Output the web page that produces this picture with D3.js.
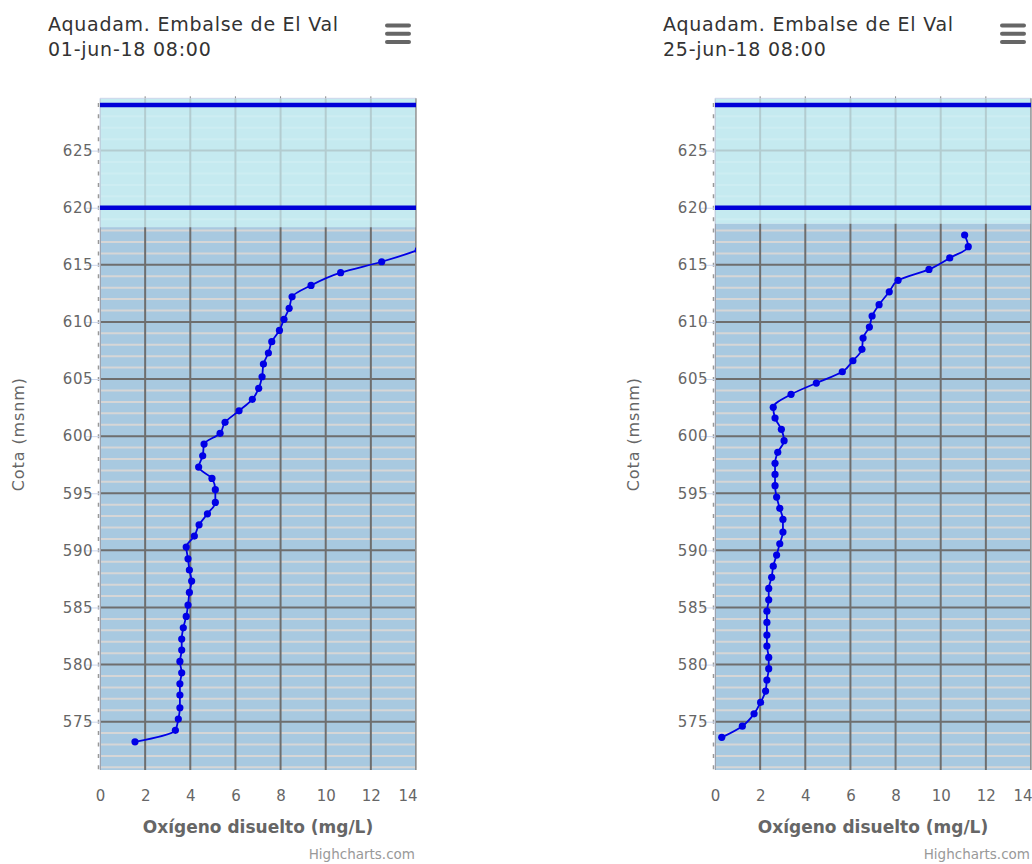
<!DOCTYPE html>
<html>
<head>
<meta charset="utf-8">
<script src="https://cdn.jsdelivr.net/npm/d3@7"></script>
<style>
  body { margin: 0; background: #fff; }
  text { font-family: "DejaVu Sans", sans-serif; }
</style>
</head>
<body>
<div class="body"></div>
<script>
// data
const titulo = "Aquadam. Embalse de El Val";
const fechas = ["01-jun-18 08:00", "25-jun-18 08:00"];

const oxigeno1 = [15.3, 14.1, 12.48, 10.66, 9.35, 8.51, 8.38, 8.15, 7.95, 7.61, 7.46, 7.24, 7.18, 7.03, 6.75, 6.16, 5.54, 5.32, 4.61, 4.55, 4.37, 4.96, 5.11, 5.11, 4.76, 4.39, 4.18, 3.82, 3.9, 3.96, 4.06, 3.96, 3.9, 3.82, 3.69, 3.62, 3.62, 3.54, 3.62, 3.54, 3.54, 3.54, 3.47, 3.34, 1.55];
const cota1 = [617.3, 616.3, 615.27, 614.31, 613.2, 612.2, 611.19, 610.23, 609.26, 608.27, 607.28, 606.31, 605.2, 604.19, 603.22, 602.22, 601.21, 600.25, 599.31, 598.28, 597.29, 596.3, 595.31, 594.2, 593.2, 592.24, 591.25, 590.29, 589.26, 588.28, 587.31, 586.32, 585.21, 584.22, 583.22, 582.23, 581.27, 580.28, 579.28, 578.32, 577.33, 576.22, 575.23, 574.24, 573.24];

const oxigeno2 = [11.06, 11.22, 10.4, 9.48, 8.11, 7.72, 7.27, 6.96, 6.84, 6.56, 6.51, 6.11, 5.64, 4.49, 3.37, 2.58, 2.66, 2.94, 3.06, 2.78, 2.66, 2.66, 2.66, 2.73, 2.87, 3.01, 3.01, 2.87, 2.73, 2.58, 2.51, 2.38, 2.38, 2.3, 2.3, 2.3, 2.3, 2.38, 2.38, 2.3, 2.24, 2.02, 1.73, 1.21, 0.3];
const cota2 = [617.61, 616.59, 615.6, 614.6, 613.64, 612.64, 611.51, 610.52, 609.55, 608.59, 607.6, 606.6, 605.64, 604.65, 603.66, 602.52, 601.58, 600.6, 599.6, 598.58, 597.62, 596.65, 595.66, 594.67, 593.68, 592.71, 591.6, 590.58, 589.59, 588.62, 587.64, 586.67, 585.67, 584.68, 583.69, 582.58, 581.62, 580.63, 579.64, 578.65, 577.68, 576.69, 575.69, 574.61, 573.63];

const nivelAgua = [618.3, 618.6];
const lineasCota = [629, 620];
const xTicks = [0, 2, 4, 6, 8, 10, 12, 14];
const yTicks = [575, 580, 585, 590, 595, 600, 605, 610, 615, 620, 625];
const yMinor = d3.range(571, 630, 1);

const plot = { left: 100, top: 98.3, width: 316, height: 671.7 };

const svg = d3.select(".body").append("svg").attr("width", 1032).attr("height", 864);

const x = d3.scaleLinear().domain([0, 14]).range([0, plot.width]);
const y = d3.scaleLinear().domain([570.77, 629.58]).range([plot.height, 0]);

function drawGrid(g, clip, major, minor) {
  const grid = g.append("g").attr("clip-path", `url(#${clip})`);
  grid.selectAll(".minor").data(yMinor.filter(v => v % 5 !== 0)).join("line")
    .attr("x1", 0).attr("x2", plot.width)
    .attr("y1", d => y(d)).attr("y2", d => y(d))
    .attr("stroke", minor).attr("stroke-width", 2);
  grid.selectAll(".my").data(yTicks).join("line")
    .attr("x1", 0).attr("x2", plot.width)
    .attr("y1", d => y(d)).attr("y2", d => y(d))
    .attr("stroke", major).attr("stroke-width", 2);
  grid.selectAll(".mx").data(xTicks).join("line")
    .attr("x1", d => x(d)).attr("x2", d => x(d))
    .attr("y1", 0).attr("y2", plot.height)
    .attr("stroke", major).attr("stroke-width", 2);
}

function chart(i, oxigeno, cota, fecha) {
  const off = i * 615;
  const root = svg.append("g").attr("transform", `translate(${off},0)`);

  // title + menu
  root.append("text").attr("x", 48).attr("y", 31).text(titulo)
    .attr("font-size", 19).attr("letter-spacing", 0.75).attr("fill", "#333");
  root.append("text").attr("x", 48).attr("y", 56).text(fecha)
    .attr("font-size", 19).attr("letter-spacing", 0.75).attr("fill", "#333");
  root.selectAll(".menu").data([25.5, 33.7, 42]).join("line")
    .attr("x1", 387).attr("x2", 409).attr("y1", d => d).attr("y2", d => d)
    .attr("stroke", "#666").attr("stroke-width", 4).attr("stroke-linecap", "round");

  const g = root.append("g").attr("transform", `translate(${plot.left},${plot.top})`);
  const nivel = nivelAgua[i];

  const defs = g.append("defs");
  defs.append("clipPath").attr("id", "plot" + i).append("rect")
    .attr("width", plot.width).attr("height", plot.height);
  defs.append("clipPath").attr("id", "aire" + i).append("rect")
    .attr("width", plot.width).attr("height", y(nivel));
  defs.append("clipPath").attr("id", "agua" + i).append("rect")
    .attr("y", y(nivel)).attr("width", plot.width).attr("height", plot.height - y(nivel));

  // bands
  g.append("rect").attr("width", plot.width).attr("height", y(nivel)).attr("fill", "#c5eaf0");
  g.append("rect").attr("y", y(nivel)).attr("width", plot.width)
    .attr("height", plot.height - y(nivel)).attr("fill", "#a8c9e0");

  drawGrid(g, "aire" + i, "#b3ccd0", "#cdedf2");
  drawGrid(g, "agua" + i, "#6e6e6e", "#d6d6d6");

  // borders
  g.append("line").attr("x1", 0).attr("x2", plot.width).attr("y1", 0).attr("y2", 0)
    .attr("stroke", "#ccd6eb");
  g.append("line").attr("x1", plot.width).attr("x2", plot.width).attr("y1", 0).attr("y2", plot.height)
    .attr("stroke", "#999").attr("stroke-width", 1.5);
  g.append("line").attr("x1", 0).attr("x2", 0).attr("y1", 0).attr("y2", plot.height)
    .attr("stroke", "#ccd6eb");
  g.append("line").attr("x1", -1.5).attr("x2", -1.5).attr("y1", 0).attr("y2", plot.height)
    .attr("stroke", "#999").attr("stroke-width", 1.5)
    .attr("stroke-dasharray", "4," + (y(0) - y(1) - 4))
    .attr("stroke-dashoffset", -(y(629) - 2));
  g.selectAll(".ttop").data(xTicks.slice(1, -1)).join("line")
    .attr("x1", d => x(d)).attr("x2", d => x(d)).attr("y1", -2).attr("y2", 0)
    .attr("stroke", "#888");

  // cota lines
  g.selectAll(".pl").data(lineasCota).join("line")
    .attr("x1", 0).attr("x2", plot.width)
    .attr("y1", d => y(d)).attr("y2", d => y(d))
    .attr("stroke", "#0000d8").attr("stroke-width", 4.5);

  // axes
  const xAxis = g.append("g").attr("transform", `translate(0,${plot.height})`)
    .call(d3.axisBottom(x).tickValues(xTicks).tickSize(0).tickPadding(20));
  xAxis.select(".domain").remove();
  xAxis.selectAll("text").attr("font-size", 15).attr("fill", "#666")
    .attr("font-family", "DejaVu Sans")
    .attr("text-anchor", (d, k) => k === xTicks.length - 1 ? "end" : "middle")
    .attr("dx", (d, k) => k === xTicks.length - 1 ? 1 : 0);

  const yAxis = g.append("g")
    .call(d3.axisLeft(y).tickValues(yTicks).tickSize(14).tickPadding(-7));
  yAxis.select(".domain").remove();
  yAxis.selectAll("line").attr("stroke", "#ccd6eb");
  yAxis.selectAll("text").attr("font-size", 15).attr("fill", "#666")
    .attr("font-family", "DejaVu Sans").attr("letter-spacing", 0.5);

  g.append("text").attr("x", plot.width / 2).attr("y", plot.height + 63)
    .attr("text-anchor", "middle").attr("font-size", 17).attr("font-weight", "bold")
    .attr("fill", "#666").text("Oxígeno disuelto (mg/L)");
  g.append("text").attr("transform", `translate(-76,${plot.height / 2}) rotate(-90)`)
    .attr("text-anchor", "middle").attr("font-size", 16).attr("letter-spacing", 0.9)
    .attr("fill", "#666").text("Cota (msnm)");

  // series
  const pts = oxigeno.map((v, k) => [v, cota[k]]);
  const serie = g.append("g").attr("clip-path", `url(#plot${i})`);
  serie.append("path").datum(pts)
    .attr("d", d3.line().x(d => x(d[0])).y(d => y(d[1])).curve(d3.curveMonotoneY))
    .attr("fill", "none").attr("stroke", "#0000e6").attr("stroke-width", 1.8);
  serie.selectAll("circle").data(pts).join("circle")
    .attr("cx", d => x(d[0])).attr("cy", d => y(d[1])).attr("r", 3.6)
    .attr("fill", "#0000e6");

  root.append("text").attr("x", 415).attr("y", 859).attr("text-anchor", "end")
    .attr("font-size", 13.5).attr("fill", "#999").text("Highcharts.com");
}

chart(0, oxigeno1, cota1, fechas[0]);
chart(1, oxigeno2, cota2, fechas[1]);
</script>
</body>
</html>
